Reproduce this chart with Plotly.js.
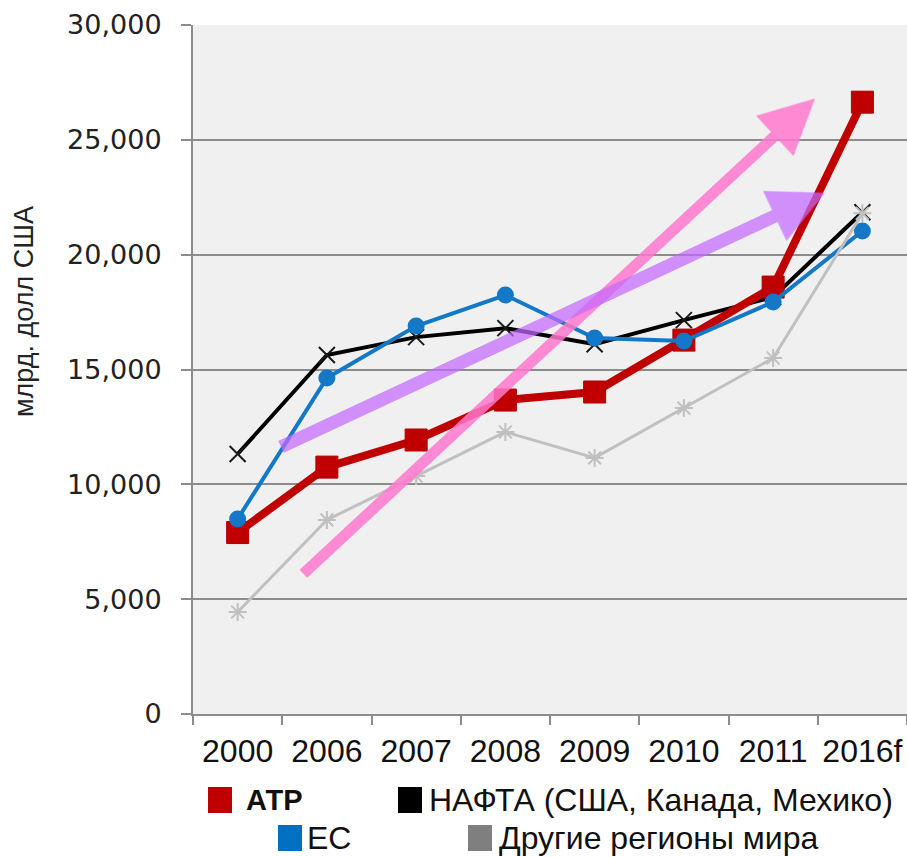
<!DOCTYPE html>
<html><head><meta charset="utf-8">
<script src="https://cdn.plot.ly/plotly-3.0.1.min.js"></script>
<style>html,body{margin:0;padding:0;background:#fff}#chart{width:907px;height:857px}</style>
</head><body><div id="chart"></div>
<script>
const years = ["2000","2006","2007","2008","2009","2010","2011","2016f"];
const atr   = [7900, 10750, 11930, 13670, 14020, 16280, 18590, 26640];
const nafta = [11320, 15630, 16410, 16800, 16100, 17150, 18150, 21850];
const eu    = [8490, 14630, 16890, 18240, 16370, 16240, 17940, 21030];
const other = [4440, 8450, 10360, 12280, 11150, 13320, 15500, 21800];
const seriesNames = ["АТР", "НАФТА (США, Канада, Мехико)", "ЕС", "Другие регионы мира"];
const yTitle = "млрд. долл США";

const SANS = "Liberation Sans, Arial, sans-serif";

const traces = [
  {x: years, y: nafta, name: seriesNames[1], mode: "lines+markers",
   line: {color: "#000000", width: 4},
   marker: {symbol: "x-thin", size: 16, line: {color: "#1a1a1a", width: 2}}},
  {x: years, y: atr, name: seriesNames[0], mode: "lines+markers",
   line: {color: "#c00000", width: 8},
   marker: {symbol: "square", size: 22, color: "#c00000", line: {color: "#b00000", width: 1}}},
  {x: years, y: eu, name: seriesNames[2], mode: "lines+markers",
   line: {color: "#1478c8", width: 4},
   marker: {symbol: "circle", size: 17, color: "#1478c8"}},
  {x: years, y: other, name: seriesNames[3], mode: "lines+markers",
   line: {color: "#c0c0c0", width: 3},
   marker: {symbol: "asterisk-open", size: 15, line: {color: "#a8a8a8", width: 2}}}
];

const legendItems = [
  {name: seriesNames[0], color: "#c00000", x0: 208, tx: 244, y: 800, bold: true},
  {name: seriesNames[1], color: "#000000", x0: 398, tx: 427, y: 800},
  {name: seriesNames[2], color: "#0070c0", x0: 278, tx: 305, y: 838},
  {name: seriesNames[3], color: "#7f7f7f", x0: 468, tx: 497, y: 838}
];
const L = 193, R = 907, T = 25, B = 714;
const px = v => (v - L) / (R - L);
const py = v => (B - v) / (B - T);

const shapes = legendItems.map(it => ({
  type: "rect", xref: "paper", yref: "paper",
  x0: px(it.x0), x1: px(it.x0 + 24), y0: py(it.y + 13), y1: py(it.y - 13),
  fillcolor: it.color, line: {width: 0}
}));
const annotations = legendItems.map(it => ({
  xref: "paper", yref: "paper", x: px(it.tx), y: py(it.y), xanchor: "left", yanchor: "middle",
  text: it.bold ? "<b>" + it.name + "</b>" : it.name, showarrow: false,
  font: {family: SANS, size: it.bold ? 29 : 32, color: "#111"}
}));
annotations.push({
  xref: "paper", yref: "paper", x: px(24), y: py(312), textangle: -90,
  xanchor: "center", yanchor: "middle",
  text: yTitle, showarrow: false, font: {family: SANS, size: 27, color: "#222"}
});
annotations.push({
  xref: "x", yref: "y", axref: "x", ayref: "y",
  x: 6.47, y: 26800, ax: 0.72, ay: 6050, text: "", showarrow: true,
  arrowhead: 2, arrowsize: 1.0, arrowwidth: 11, arrowcolor: "rgba(255,120,205,0.85)"
});
annotations.push({
  xref: "x", yref: "y", axref: "x", ayref: "y",
  x: 6.58, y: 22700, ax: 0.47, ay: 11600, text: "", showarrow: true,
  arrowhead: 2, arrowsize: 0.85, arrowwidth: 13, arrowcolor: "rgba(195,105,255,0.72)"
});

const layout = {
  width: 907, height: 857,
  margin: {l: L, r: 907 - R, t: T, b: 857 - B},
  paper_bgcolor: "#ffffff", plot_bgcolor: "#f0f0f0",
  showlegend: false,
  xaxis: {
    type: "category", tickson: "boundaries", range: [-0.5, 7.5],
    showline: true, linecolor: "#8c8c8c", linewidth: 2,
    ticks: "outside", ticklen: 9, tickcolor: "#8c8c8c", tickwidth: 2,
    showgrid: true, gridcolor: "rgba(0,0,0,0)", tickangle: 0,
    ticklabelstandoff: 8,
    tickfont: {family: SANS, size: 32, color: "#111"}
  },
  yaxis: {
    range: [0, 30000], dtick: 5000, tickformat: ",",
    showline: true, linecolor: "#8c8c8c", linewidth: 2,
    ticks: "outside", ticklen: 10, tickcolor: "#8c8c8c", tickwidth: 2,
    gridcolor: "#8c8c8c", gridwidth: 2, zeroline: false,
    ticklabelstandoff: 14,
    tickfont: {family: "DejaVu Sans, Verdana, sans-serif", size: 27, color: "#222"}
  },
  shapes: shapes,
  annotations: annotations
};
Plotly.newPlot("chart", traces, layout, {displayModeBar: false});
</script></body></html>
